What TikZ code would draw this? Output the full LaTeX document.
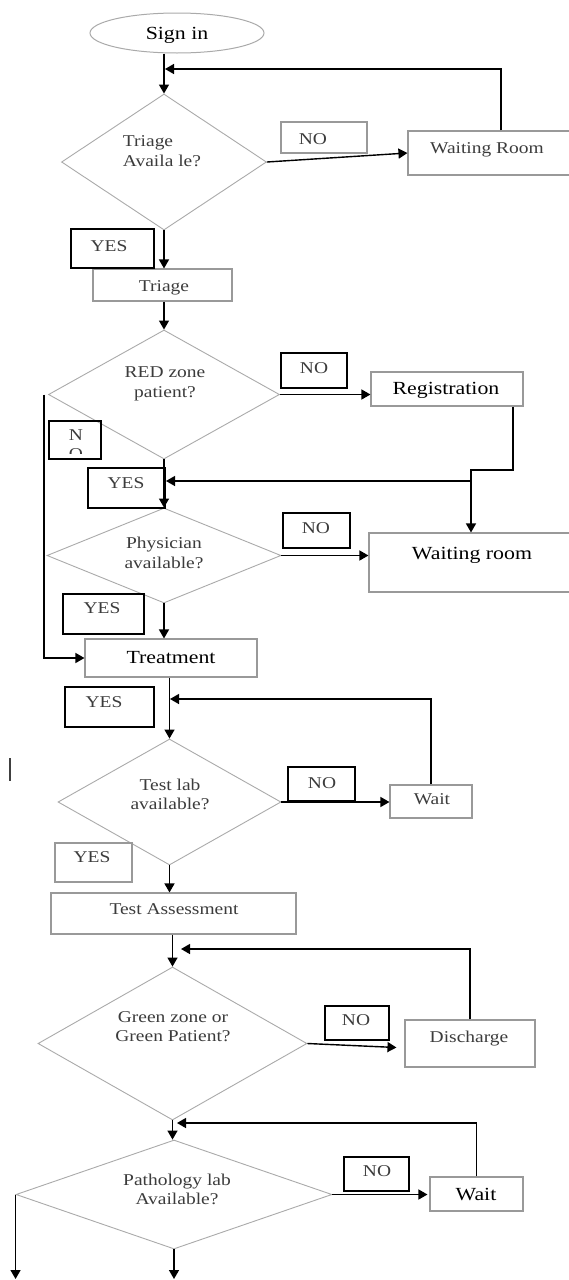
\documentclass[tikz,border=0pt]{standalone}
\usepackage{fontspec}
\setmainfont[FakeStretch=1.18]{Liberation Serif}
\usetikzlibrary{shapes.geometric,arrows.meta,calc}

\definecolor{edgegray}{HTML}{AAAAAA}
\definecolor{boxgray}{HTML}{999999}
\definecolor{txtgray}{HTML}{3C3C3C}

\begin{document}
\begin{tikzpicture}[x=1pt,y=-1pt,
  decision/.style={diamond, draw=edgegray, line width=0.9pt, inner sep=0pt},
  procbox/.style={rectangle, draw=boxgray, line width=1.1pt, inner sep=0pt},
  tagbox/.style={rectangle, draw=black, line width=1.6pt, inner sep=0pt},
  tagboxgray/.style={rectangle, draw=boxgray, line width=1.2pt, inner sep=0pt},
  small/.style={font=\fontsize{16.5}{19.5}\selectfont, text=txtgray, inner sep=0pt, text height=10.9pt, text depth=0pt},
  smalltwo/.style={font=\fontsize{16.5}{19.5}\selectfont, text=txtgray, inner sep=0pt, align=center},
  large/.style={font=\fontsize{18.5}{22}\selectfont, text=black, inner sep=0pt, text height=12.2pt, text depth=0pt},
  flow/.style={draw=black, line width=1.4pt, -{Triangle[length=9pt,width=10pt]}},
  plain/.style={draw=black, line width=1.4pt},
]
\fill[white] (0,0) rectangle (569,1280);
\useasboundingbox (0,0) rectangle (569,1280);

% ---------- start ----------
\node[ellipse, draw=edgegray, line width=1pt, minimum width=174pt, minimum height=40pt, inner sep=0pt] (signin) at (177,33) {};
\node[large] (signint) at (177,33) {Sign in};

% ---------- decisions ----------
\node[decision, minimum width=205pt, minimum height=136pt] (d1) at (164,162) {};
\node[smalltwo, align=left] (d1t) at (162,151) {Triage\\Availa le?};

\node[decision, minimum width=231pt, minimum height=129pt] (d2) at (164,394.5) {};
\node[smalltwo] (d2t) at (165,384) {RED zone\\patient?};

\node[decision, minimum width=234pt, minimum height=95pt] (d3) at (164,555.5) {};
\node[smalltwo] (d3t) at (164,553) {Physician\\available?};

\node[decision, minimum width=223pt, minimum height=126pt] (d4) at (169.5,802) {};
\node[smalltwo] (d4t) at (170,794.5) {Test lab\\available?};

\node[decision, minimum width=269pt, minimum height=153pt] (d5) at (172.5,1043.5) {};
\node[smalltwo] (d5t) at (173,1026.5) {Green zone or\\Green Patient?};

\node[decision, minimum width=316pt, minimum height=109pt] (d6) at (174,1194.5) {};
\node[smalltwo] (d6t) at (177,1189.5) {Pathology lab\\Available?};

% ---------- process boxes ----------
\node[procbox, minimum width=186pt, minimum height=44pt] (wr1) at (501,153) {};
\node[small] (wr1t) at (487,148) {Waiting Room};

\node[procbox, minimum width=139pt, minimum height=32pt] (triage) at (162.5,285) {};
\node[small] (triaget) at (164,286) {Triage};

\node[procbox, minimum width=152pt, minimum height=34pt] (reg) at (447,389) {};
\node[large] (regt) at (446,388) {Registration};

\node[procbox, minimum width=204pt, minimum height=59pt] (wr2) at (471,562.5) {};
\node[large] (wr2t) at (472,553) {Waiting room};

\node[procbox, minimum width=172pt, minimum height=38pt] (treat) at (171,658) {};
\node[large] (treatt) at (171,657) {Treatment};

\node[procbox, minimum width=82pt, minimum height=33pt] (wait1) at (431,801.5) {};
\node[small] (wait1t) at (432,799) {Wait};

\node[procbox, minimum width=245pt, minimum height=41pt] (testA) at (173.5,913.5) {};
\node[small] (testAt) at (174,909) {Test Assessment};

\node[procbox, minimum width=130pt, minimum height=47pt] (disch) at (470,1043.5) {};
\node[small] (discht) at (469,1037) {Discharge};

\node[procbox, minimum width=93pt, minimum height=34pt] (wait2) at (476.5,1194) {};
\node[large] (wait2t) at (476,1194) {Wait};

% ---------- YES / NO tags ----------
\node[tagboxgray, minimum width=86pt, minimum height=31pt] (no1) at (324,137.5) {};
\node[small] (no1t) at (313,139) {NO};

\node[tagbox, minimum width=83pt, minimum height=39pt] (yes1) at (112.5,248.5) {};
\node[small] (yes1t) at (109,246) {YES};

\node[tagbox, minimum width=66pt, minimum height=35pt] (no2) at (314,370.5) {};
\node[small] (no2t) at (314,368) {NO};

\node[tagbox, minimum width=52pt, minimum height=38pt] (no2b) at (75,440) {};
\begin{scope}
  \clip (49,421) rectangle (101,453);
  \node[smalltwo] (no2bt) at (76,444.5) {N\\O};
\end{scope}

\node[tagbox, minimum width=77pt, minimum height=40pt] (yes2) at (126.5,488) {};
\node[small] (yes2t) at (126,483) {YES};

\node[tagbox, minimum width=67pt, minimum height=35pt] (no3) at (316.5,530.5) {};
\node[small] (no3t) at (316,528) {NO};

\node[tagbox, minimum width=81pt, minimum height=40pt] (yes3) at (103.5,614) {};
\node[small] (yes3t) at (102,608) {YES};

\node[tagbox, minimum width=89pt, minimum height=40pt] (yes4) at (109.5,707) {};
\node[small] (yes4t) at (104,702) {YES};

\node[tagbox, minimum width=67pt, minimum height=34pt] (no4) at (321.5,784) {};
\node[small] (no4t) at (322,783) {NO};

\node[tagboxgray, minimum width=77pt, minimum height=39pt] (yes5) at (93.5,862.5) {};
\node[small] (yes5t) at (92,857) {YES};

\node[tagbox, minimum width=64pt, minimum height=34pt] (no5) at (357,1023) {};
\node[small] (no5t) at (356,1020) {NO};

\node[tagbox, minimum width=65pt, minimum height=34pt] (no6) at (376.5,1174) {};
\node[small] (no6t) at (377,1171) {NO};

% stray cursor mark
\draw[line width=1.4pt, black!75] (10,758) -- (10,781);

% ---------- junction points ----------
\coordinate (fb1) at (165,69);
\coordinate (fb2) at (170,699);
\coordinate (fb3) at (181,949);
\coordinate (fb4) at (177,1123);
\coordinate (r1) at (513,470);
\coordinate (r2) at (471,470);
\coordinate (r3) at (471,481);
\coordinate (fb5) at (166,481);
\coordinate (end1) at (17,1279);
\coordinate (end2) at (176,1279);

% ---------- connectors ----------
\draw[flow] (signin.south -| d1.north) -- (d1.north);
\draw[flow] (wr1.north) |- (fb1);
\draw[flow] (d1.east) -- (wr1.west);
\draw[flow] (d1.south) -- (d1.south |- triage.north);
\draw[flow] (triage.south -| d2.north) -- (d2.north);

\draw[flow] (d2.east) -- (d2.east -| reg.west);
\draw[plain] (reg.south -| r1) -- (r1) -- (r2) -- (r3);
\draw[flow] (r3) -- (wr2.north);
\draw[flow] (r3) -- (fb5);
\draw[flow] (d2.south) -- (d3.north);
\draw[flow] ([xshift=-4pt]d2.west) |- (treat.west);

\draw[flow] (d3.east) -- (d3.east -| wr2.west);
\draw[flow] (d3.south) -- (d3.south |- treat.north);

\draw[flow] (treat.south -| d4.north) -- (d4.north);
\draw[flow] (wait1.north) |- (fb2);
\draw[flow] (d4.east) -- (d4.east -| wait1.west);
\draw[flow] (d4.south) -- (d4.south |- testA.north);

\draw[flow] (testA.south -| d5.north) -- (d5.north);
\draw[flow] (disch.north) |- (fb3);
\draw[flow] (d5.east) -- ($(disch.west)+(-8,4)$);

\draw[flow] (d5.south) -- (d5.south |- d6.north);
\draw[flow] (wait2.north) |- (fb4);
\draw[flow] (d6.east) -- ([xshift=-2pt]d6.east -| wait2.west);
\draw[flow] (d6.west) -- (d6.west |- end1);
\draw[flow] (d6.south) -- (d6.south |- end2);
\end{tikzpicture}
\end{document}
